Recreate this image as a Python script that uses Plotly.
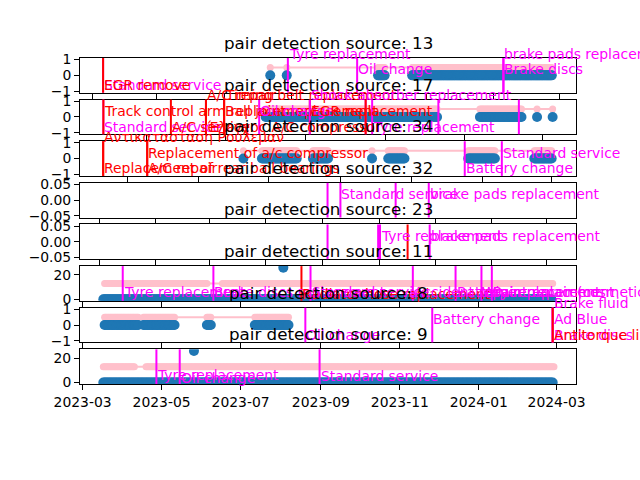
import pandas as pd
import plotly.graph_objects as go
from plotly.subplots import make_subplots

FONT = "DejaVu Sans"
BLUE = "#1f77b4"
PINK = "pink"
KIND_COLORS = {"repair": "red", "service": "magenta"}

sources = [13, 17, 34, 32, 23, 11, 8, 9]

# visible date window of each panel
x_windows = {
    13: ["2022-12-21", "2024-03-16"],
    17: ["2023-03-11", "2024-03-27"],
    34: ["2023-01-19", "2024-03-22"],
    32: ["2022-10-11", "2024-04-02"],
    23: ["2022-10-11", "2024-04-02"],
    11: ["2023-02-27", "2024-03-16"],
    8: ["2023-02-27", "2024-03-16"],
    9: ["2023-02-27", "2024-03-16"],
}

y_windows = {
    13: [-1.1, 1.1], 17: [-1.1, 1.1], 34: [-1.1, 1.1],
    32: [-0.055, 0.055], 23: [-0.055, 0.055],
    11: [-1.3, 27.3], 8: [-1.1, 1.1], 9: [-1.3, 27.3],
}

# detections, as runs of consecutive days (blue dots at 0)
detection_runs = {
    13: [("2023-06-12", "2023-06-12"), ("2023-06-27", "2023-06-27"),
         ("2023-09-18", "2023-09-24"), ("2023-10-19", "2024-02-23")],
    17: [("2023-08-01", "2023-12-11"), ("2024-01-13", "2024-02-14"),
         ("2024-02-26", "2024-02-26"), ("2024-03-09", "2024-03-09")],
    34: [("2023-06-09", "2023-06-09"), ("2023-06-25", "2023-07-25"),
         ("2023-08-08", "2023-08-21"), ("2023-09-28", "2023-09-28"),
         ("2023-10-12", "2023-10-26"), ("2023-12-20", "2024-01-12"),
         ("2024-02-15", "2024-03-01")],
    32: [],
    23: [],
    11: [("2023-03-17", "2024-02-26")],
    8: [("2023-03-18", "2023-04-13"), ("2023-04-17", "2023-05-11"),
        ("2023-06-05", "2023-06-08"), ("2023-07-12", "2023-08-07")],
    9: [("2023-03-17", "2024-02-27")],
}

# pink series: same days as the detections unless listed here
pink_runs = {
    11: [("2023-03-18", "2023-06-05"), ("2023-06-17", "2024-02-27")],
    9: [("2023-03-17", "2023-04-10"), ("2023-04-19", "2024-02-28")],
}
pink_level = {13: 0.5, 17: 0.5, 34: 0.5, 11: 13, 8: 0.5, 9: 13}

peaks = {11: ("2023-08-03", 26), 9: ("2023-05-26", 26)}

# maintenance records: date, kind, description, text level
records = {
    13: [("2023-01-11", "service", "Standard service", -1),
         ("2023-01-11", "repair", "EGR remove", -1),
         ("2023-06-28", "service", "Tyre replacement", 1),
         ("2023-08-30", "service", "Oil change", 0),
         ("2024-01-10", "service", "brake pads replacement", 1),
         ("2024-01-10", "service", "Brake discs", 0)],
    17: [("2023-03-29", "service", "Standard service", -1),
         ("2023-03-29", "repair", "Track control arm replacement", 0),
         ("2023-05-20", "repair", "A/C service", -1),
         ("2023-06-16", "repair", "A/C repair", 1),
         ("2023-06-16", "repair", "Έλεγχος A/C compressor", -1),
         ("2023-06-30", "repair", "Timing belt replacement", 1),
         ("2023-06-30", "repair", "Ball joint replacement", 0),
         ("2023-07-27", "service", "Oil change", 0),
         ("2023-09-04", "repair", "EGR replacement", 0),
         ("2023-09-04", "service", "Shock absorber replacement", 1),
         ("2023-10-17", "service", "", 0),
         ("2023-10-17", "repair", "", 0),
         ("2023-10-22", "service", "Tyre replacement", -1),
         ("2023-12-12", "service", "", 0),
         ("2024-02-12", "service", "", 0)],
    34: [("2023-02-08", "repair", "Αντικατασταση Ρουλεμαν", 1),
         ("2023-02-08", "repair", "Replacement of rear ball bearings", -1),
         ("2023-03-18", "repair", "Replacement of a/c compressor", 0),
         ("2023-03-18", "repair", "A/C repair", -1),
         ("2023-12-17", "service", "Battery change", -1),
         ("2024-01-18", "service", "Standard service", 0)],
    32: [("2023-07-07", "service", "", 0),
         ("2023-07-21", "service", "Standard service", 0),
         ("2023-09-19", "service", "", 0),
         ("2023-10-25", "service", "brake pads replacement", 0)],
    23: [("2023-07-07", "service", "", 0),
         ("2023-08-31", "service", "", 0),
         ("2023-09-02", "service", "Tyre replacement", 0),
         ("2023-10-02", "repair", "", 0),
         ("2023-10-26", "service", "brake pads replacement", 0)],
    11: [("2023-04-01", "service", "Tyre replacement", 1),
         ("2023-06-10", "service", "Brake discs replacement", 1),
         ("2023-08-17", "repair", "Radiator hose replacement", -1),
         ("2023-08-24", "service", "Standard service", 1),
         ("2023-11-11", "service", "Accident repair", 1),
         ("2023-12-14", "service", "Battery replacement", 1),
         ("2024-01-03", "service", "Wiper replacement", 1),
         ("2024-01-11", "service", "Paint repair (cosmetic)", 1)],
    8: [("2023-08-20", "service", "Oil change", -1),
        ("2023-11-26", "service", "Battery change", 0),
        ("2024-02-27", "service", "Brake fluid", 1),
        ("2024-02-27", "service", "Ad Blue", 0),
        ("2024-02-27", "service", "Brake discs", -1),
        ("2024-02-27", "repair", "Antitorque link replacement", -1)],
    9: [("2023-04-27", "service", "Tyre replacement", 1),
        ("2023-05-15", "service", "Oil change", -1),
        ("2023-08-31", "service", "Standard service", 0)],
}


def expand(runs):
    out = []
    for start, end in runs:
        out.extend(pd.date_range(start, end, freq="D"))
    return out


fig = make_subplots(rows=len(sources), cols=1, vertical_spacing=0.0213)

for i, src in enumerate(sources, start=1):
    xn = "x" if i == 1 else f"x{i}"
    yn = "y" if i == 1 else f"y{i}"

    blue_x = expand(detection_runs[src])
    blue_y = [0] * len(blue_x)
    if src in peaks:
        blue_x.append(pd.Timestamp(peaks[src][0]))
        blue_y.append(peaks[src][1])
    pink_x = expand(pink_runs.get(src, detection_runs[src]))

    if pink_x:
        fig.add_trace(go.Scatter(x=pink_x, y=[pink_level[src]] * len(pink_x),
                                 mode="lines+markers", line=dict(color=PINK, width=2),
                                 marker=dict(color=PINK, size=7), showlegend=False),
                      row=i, col=1)
    if blue_x:
        fig.add_trace(go.Scatter(x=blue_x, y=blue_y, mode="markers",
                                 marker=dict(color=BLUE, size=10), showlegend=False),
                      row=i, col=1)

    fig.update_xaxes(type="date", range=x_windows[src], row=i, col=1)
    fig.update_yaxes(range=y_windows[src], row=i, col=1)

    # panel title
    fig.add_annotation(text=f"pair detection source: {src}", showarrow=False,
                       xref=f"{xn} domain", yref=f"{yn} domain", x=0.5, y=1,
                       xanchor="center", yanchor="bottom", yshift=3,
                       font=dict(family=FONT, size=16.7, color="black"))

    for day, kind, text, level in records[src]:
        color = KIND_COLORS[kind]
        fig.add_shape(type="line", xref=xn, yref=f"{yn} domain", x0=day, x1=day,
                      y0=0, y1=1, line=dict(color=color, width=2), layer="above")
        if text:
            fig.add_annotation(text=text, showarrow=False, xref=xn, yref=yn,
                               x=day, y=level, xanchor="left", yanchor="bottom",
                               xshift=-1, yshift=-4,
                               font=dict(family=FONT, size=13.9, color=color))

axis_style = dict(showline=True, mirror=True, linecolor="black", linewidth=1,
                  ticks="outside", ticklen=5, tickwidth=1, tickcolor="black",
                  showgrid=False, zeroline=False,
                  tickfont=dict(family=FONT, size=13.9, color="black"))
fig.update_xaxes(**axis_style, dtick="M2", tick0="2023-01-01", tickformat="%Y-%m",
                 showticklabels=False)
fig.update_xaxes(showticklabels=True, row=len(sources), col=1)
fig.update_yaxes(**axis_style)
for i, src in enumerate(sources, start=1):
    if src in (32, 23):
        fig.update_yaxes(dtick=0.05, tick0=0, tickformat=".2f", row=i, col=1)
    elif src in (11, 9):
        fig.update_yaxes(dtick=20, tick0=0, row=i, col=1)
    else:
        fig.update_yaxes(dtick=1, tick0=0, row=i, col=1)

fig.update_layout(width=640, height=480, autosize=False,
                  margin=dict(l=80, r=64, t=58, b=96),
                  paper_bgcolor="white", plot_bgcolor="white",
                  font=dict(family=FONT, color="black"), showlegend=False)

fig.write_html("out.html", config={"displayModeBar": False},
               post_script="document.body.style.margin='0';")
